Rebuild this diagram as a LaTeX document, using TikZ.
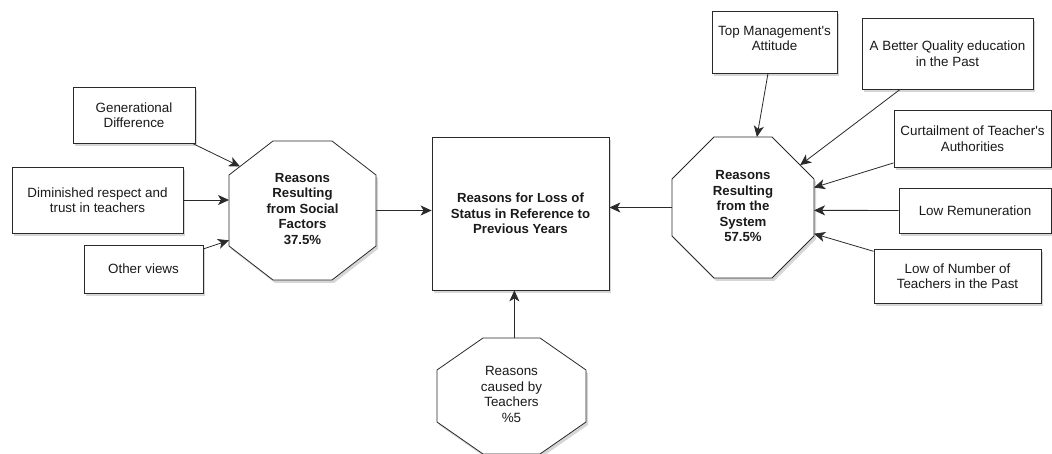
\documentclass[tikz,border=0pt]{standalone}
\usepackage{fontspec}
\setmainfont{Liberation Sans}[Ligatures=TeXOff]
\usetikzlibrary{arrows.meta,shadows,calc}
\definecolor{linec}{HTML}{2A2A2A}
\definecolor{textc}{HTML}{1A1A1A}
\tikzset{
  softshadow/.style={drop shadow={shadow xshift=2pt, shadow yshift=-3pt, opacity=0.16, fill=black}},
  box/.style={draw=linec, fill=white, line width=0.8pt, align=center, text=textc, inner sep=2pt, softshadow},
  octo/.style={draw=linec, fill=white, line width=0.8pt, softshadow},
  otext/.style={align=center, text=textc, inner sep=0pt},
  bold/.style={font=\fontsize{13.2}{15.5}\selectfont\bfseries},
  arr/.style={draw=linec, line width=0.8pt, -{Stealth[length=11pt,width=10pt,inset=3pt]}},
}
% #1 name, #2 cx, #3 cy, #4 half width, #5 half height, #6 cut x, #7 cut y
\newcommand{\octagonpath}[7]{%
  \coordinate (#1) at (#2,#3);
  \coordinate (#1-1) at ($(#1)+(-#4+#6,-#5)$);
  \coordinate (#1-2) at ($(#1)+(#4-#6,-#5)$);
  \coordinate (#1-3) at ($(#1)+(#4,-#5+#7)$);
  \coordinate (#1-4) at ($(#1)+(#4,#5-#7)$);
  \coordinate (#1-5) at ($(#1)+(#4-#6,#5)$);
  \coordinate (#1-6) at ($(#1)+(-#4+#6,#5)$);
  \coordinate (#1-7) at ($(#1)+(-#4,#5-#7)$);
  \coordinate (#1-8) at ($(#1)+(-#4,-#5+#7)$);
  \draw[octo] (#1-1) -- (#1-2) -- (#1-3) -- (#1-4) -- (#1-5) -- (#1-6) -- (#1-7) -- (#1-8) -- cycle;
}
\begin{document}
\begin{tikzpicture}[x=1pt,y=-1pt,font=\fontsize{13.4}{15.5}\selectfont]
\clip (0,0) rectangle (1052,454);
\fill[white] (0,0) rectangle (1052,454);

% ---------- left boxes ----------
\node[box, minimum width=122pt, minimum height=56pt] (gen) at (134,115) {Generational\\Difference};
\node[box, minimum width=171pt, minimum height=66pt] (dim) at (97.5,200) {Diminished respect and\\trust in teachers};
\node[box, minimum width=119pt, minimum height=48pt] (oth) at (143.5,269) {Other views};

% ---------- octagons ----------
\octagonpath{soco}{302.5}{210.5}{73.5}{69.5}{44}{34}
\node[otext, bold] (soc) at (302.5,209) {Reasons\\Resulting\\from Social\\Factors\\37.5\%};

\octagonpath{syso}{743}{207.5}{71}{70.5}{42}{42}
\node[otext, bold] (sys) at (743,206.5) {Reasons\\Resulting\\from the\\System\\57.5\%};

\octagonpath{boto}{511.5}{396}{74.5}{58}{46}{32}
\node[otext] (bot) at (511.5,394.5) {Reasons\\caused by\\Teachers\\\%5};

% ---------- central box ----------
\node[box, bold, minimum width=177pt, minimum height=153pt] (main) at (520.5,213.5) {Reasons for Loss of\\Status in Reference to\\Previous Years};

% ---------- right boxes ----------
\node[box, minimum width=125pt, minimum height=62pt, text depth=7.5pt] (tm) at (774.5,42) {Top Management's\\Attitude};
\node[box, minimum width=171pt, minimum height=71pt] (bq) at (947.5,53.5) {A Better Quality education\\in the Past};
\node[box, minimum width=157pt, minimum height=57pt] (curt) at (972.5,138.5) {Curtailment of Teacher's\\Authorities};
\node[box, minimum width=152pt, minimum height=45pt] (lr) at (975,210.5) {Low Remuneration};
\node[box, minimum width=167pt, minimum height=54pt] (lnum) at (957.5,276) {Low of Number of\\Teachers in the Past};

% ---------- connector end points on octagon borders ----------
\coordinate (sA) at ($(soco-8)!0.25!(soco-1)$);
\coordinate (sB) at (soco-8 |- dim);
\coordinate (sC) at ($(soco-8)!0.92!(soco-7)$);
\coordinate (sE) at ($(soco-3)!0.5!(soco-4)$);

\coordinate (yT) at ($(syso-1)!0.74!(syso-2)$);
\coordinate (yB) at ($(syso-2)!0.67!(syso-3)$);
\coordinate (yC) at ($(syso-3)!0.15!(syso-4)$);
\coordinate (yL) at ($(syso-3)!0.55!(syso-4)$);
\coordinate (yN) at ($(syso-3)!0.96!(syso-4)$);
\coordinate (yW) at ($(syso-8)!0.5!(syso-7)$);

\coordinate (bT) at ($(boto-1)!0.55!(boto-2)$);

% ---------- connectors ----------
\draw[arr] (gen) -- (sA);
\draw[arr] (dim) -- (sB);
\draw[arr] (oth) -- (sC);
\draw[arr] (sE) -- (main.west |- sE);

\draw[arr] ([xshift=-6.5pt]tm.south) -- (yT);
\draw[arr] (bq) -- (yB);
\draw[arr] (curt) -- (yC);
\draw[arr] (lr) -- (yL);
\draw[arr] (lnum) -- (yN);
\draw[arr] (yW) -- (main.east |- yW);

\draw[arr] (bT) -- (main.south -| bT);
\end{tikzpicture}
\end{document}
